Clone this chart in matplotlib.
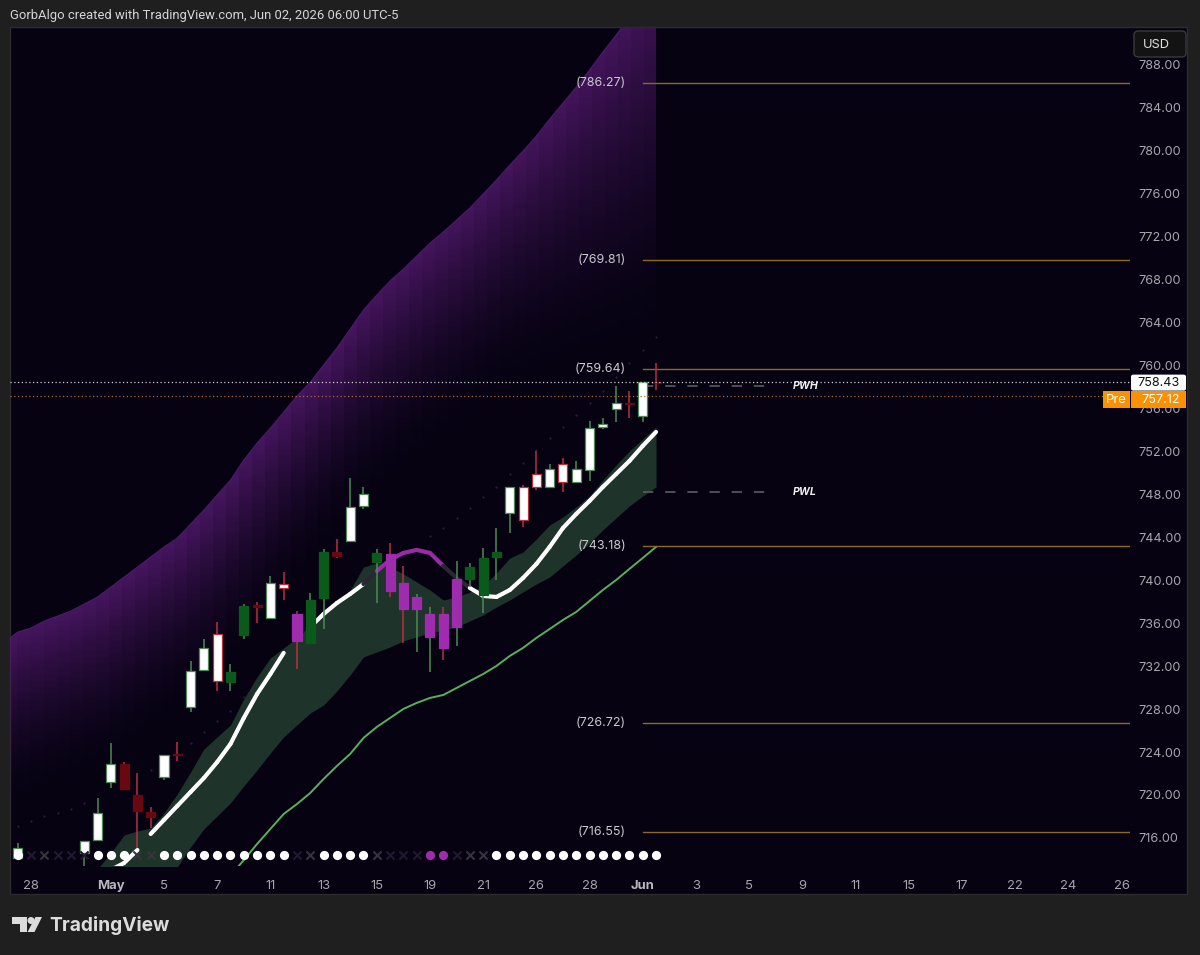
import numpy as np
import matplotlib
matplotlib.use("Agg")
import matplotlib.pyplot as plt
from matplotlib.patches import Rectangle, FancyBboxPatch, Polygon, Ellipse

plt.rcParams['font.family'] = ['Inter', 'DejaVu Sans']

# candles: bar index, body top, body bottom, high, low
bar_idx = [0, 5, 6, 7, 8, 9, 10, 11, 12, 13, 14, 15, 16, 17, 18, 19, 20, 21, 22, 23, 24, 25, 26, 27, 28,
           29, 30, 31, 32, 33, 34, 35, 36, 37, 38, 39, 40, 41, 42, 43, 44, 45, 46, 47, 48]
body_top = [715.04, 715.72, 718.30, 722.86, 722.86, 719.97, 718.45, 723.73, 723.82, 731.54, 733.69, 734.96,
            731.48, 737.62, 737.66, 739.74, 739.67, 736.82, 738.15, 742.59, 742.59, 746.84, 748.05, 742.50,
            742.43, 739.74, 738.46, 736.85, 736.85, 740.06, 741.20, 742.09, 742.65, 748.64, 748.70, 749.91,
            750.37, 750.78, 750.37, 754.19, 754.53, 756.52, 756.52, 758.42, 758.43]
body_bot = [714.14, 714.58, 715.81, 721.24, 720.56, 718.51, 717.98, 721.71, 723.70, 728.17, 731.64, 730.61,
            730.55, 734.87, 737.53, 736.45, 739.24, 734.31, 734.18, 738.37, 742.25, 743.65, 746.90, 741.72,
            739.02, 737.32, 737.32, 734.68, 733.70, 735.67, 740.11, 738.62, 742.13, 746.22, 745.57, 748.64,
            748.64, 749.16, 749.16, 750.25, 754.22, 755.90, 756.40, 755.31, 758.33]
high = [715.56, 715.72, 719.75, 724.81, 723.10, 722.08, 718.91, 723.73, 724.96, 732.50, 734.52, 736.06,
        732.17, 737.78, 737.99, 740.39, 740.73, 737.13, 738.78, 742.87, 743.86, 749.48, 748.64, 742.90,
        743.43, 741.35, 738.71, 737.53, 737.53, 741.81, 741.57, 742.99, 744.83, 748.64, 748.86, 752.04,
        750.78, 751.33, 751.09, 754.81, 755.12, 758.07, 757.61, 758.42, 760.24]
low = [714.14, 713.33, 715.81, 720.63, 720.47, 715.04, 716.90, 721.40, 723.19, 727.76, 731.64, 729.68,
       729.68, 734.52, 736.04, 736.45, 738.12, 731.73, 734.18, 735.43, 742.03, 743.65, 746.65, 737.90,
       738.46, 734.18, 733.34, 731.48, 732.57, 733.87, 739.33, 736.97, 740.01, 744.42, 744.98, 748.39,
       748.64, 748.22, 749.16, 749.23, 754.07, 754.72, 755.07, 754.72, 757.70]
body_kind = list("WWWWRRRWRWWWGGRWWPGGRWWGPPPPPPGGGWWWWWWWWWRWR")
wick_kind = list("ggggrrrgrggrggrgrrggrgggrrggrgggggrrgrggggrgr")

# moving average and its band, one value per bar
ma_idx = list(range(7, 49))
ma = [713.02, 713.67, 714.88, 716.37, 717.68, 718.98, 720.28, 721.58, 723.07, 724.75, 727.17, 729.40, 731.26,
      733.22, 734.43, 735.64, 736.85, 737.87, 738.71, 739.64, 740.85, 741.88, 742.53, 742.81, 742.53, 741.32,
      740.20, 739.27, 738.53, 738.43, 739.08, 740.20, 741.50, 743.09, 744.85, 746.16, 747.37, 748.67, 749.88,
      751.09, 752.49, 753.79]
# colour of the step that starts at each bar, last bar has none
ma_kind = list("wwn" + "wwwwwwwwww" + "nn" + "wwww" + "d" + "ppppp" + "dd" + "w" * 14)

band_idx = list(range(6, 49))
band_up = [713.11, 714.60, 716.28, 716.65, 716.93, 718.33, 720.10, 722.14, 724.28, 725.40, 726.52, 728.94,
           730.99, 732.75, 733.69, 734.62, 735.83, 737.22, 737.87, 739.08, 741.22, 741.60, 741.22, 740.57,
           739.83, 739.08, 738.15, 738.43, 738.90, 739.46, 740.67, 742.06, 742.62, 743.83, 745.13, 745.88,
           746.81, 747.83, 749.32, 750.72, 752.02, 753.14, 754.26]
band_lo = [712.0, 712.0, 712.0, 712.0, 712.0, 712.0, 713.30, 715.16, 716.84, 718.05, 719.26, 720.84,
           722.33, 723.91, 725.40, 726.52, 727.63, 728.38, 729.68, 731.17, 732.85, 733.31, 733.78, 734.34,
           734.71, 735.08, 735.36, 735.64, 736.20, 736.76, 737.50, 738.15, 738.90, 739.64, 740.29, 741.32,
           742.34, 743.46, 744.67, 745.79, 746.90, 747.83, 748.67]

green_idx = list(range(16, 49))
green = [712.46, 713.95, 715.44, 716.84, 718.23, 719.16, 720.19, 721.49, 722.70, 723.82, 725.31, 726.33,
         727.17, 728.01, 728.57, 729.03, 729.31, 729.96, 730.61, 731.26, 732.01, 732.94, 733.69, 734.62,
         735.45, 736.29, 737.04, 738.06, 739.08, 740.01, 741.04, 742.06, 743.09]

# purple cloud, bars -1 to 48
cloud_idx = list(range(-1, 49))
cloud_up = [734.24, 735.17, 735.55, 736.20, 736.66, 737.13, 737.78, 738.43, 739.36, 740.29, 741.22, 742.16,
            743.09, 743.92, 745.23, 746.53, 747.93, 749.32, 751.18, 752.77, 754.16, 755.65, 757.14, 758.44,
            760.03, 761.61, 763.38, 765.15, 766.54, 767.85, 768.96, 770.17, 771.38, 772.41, 773.52, 774.64,
            775.94, 777.25, 778.64, 779.95, 781.34, 782.92, 784.41, 785.90, 787.49, 789.16, 790.74, 792.42,
            794.09, 795.77]
cloud_base = [718.3, 718.9, 719.5, 720.1, 720.6, 721.1, 721.6, 722.1, 723.0, 723.9, 724.8, 725.7, 726.6, 727.5,
              728.4, 729.3, 730.4, 731.8, 733.2, 734.6, 736.0, 737.6, 739.1, 740.7, 742.2, 743.7, 745.2,
              746.2, 747.3, 748.3, 749.4, 750.5, 751.6, 752.5, 753.5, 754.4, 755.3, 756.2, 757.1, 757.7,
              758.0, 758.4, 758.8, 759.1, 759.5, 759.8, 760.1, 760.4, 760.7, 761.1]

# faint trailing dots
trail_idx = [0, 1, 2, 3, 4, 5, 10, 13, 14, 15, 16, 17, 31, 32, 33, 34, 35, 36, 37, 38, 39, 40, 41, 42, 43, 44,
             45, 46, 47, 48]
trail = [717.12, 717.58, 718.05, 718.33, 718.70, 719.26, 722.33, 724.84, 725.87, 726.89, 727.82, 729.12,
         744.11, 744.85, 745.79, 746.72, 747.74, 748.67, 749.88, 750.90, 752.12, 753.23, 754.26, 755.37,
         756.49, 757.61, 758.91, 760.21, 761.42, 762.63]

# bottom row, one per bar: o white dot, p purple dot, x grey cross, d dim cross
status = list("odxddd" + "ooo" + "xx" + "oooooooooo" + "dx" + "oooo" + "xddd" + "pp" + "dxx" + "ooooooooooooo")

pivots = [786.27, 769.81, 759.64, 743.18, 726.72, 716.55]
pwh = 758.08
pwl = 748.20
last_close = 758.43
pre_price = 757.12

y_ticks = list(range(716, 789, 4))
x_ticks = [1, 7, 11, 15, 19, 23, 27, 31, 35, 39, 43, 47, 51, 55, 59, 63, 67, 71, 75, 79, 83]
x_labels = ['28', 'May', '5', '7', '11', '13', '15', '19', '21', '26', '28', 'Jun', '3', '5', '9', '11', '15',
            '17', '22', '24', '26']

OUTER = '#1f1f1f'
PANE = '#060212'
AXIS_TEXT = '#a6a6ad'
W, H = 1200, 955


def chrome_rect(x0, y0, x1, y1, **kw):
    # pixel box measured from the top left, for the parts around the chart
    p = Rectangle((x0 / W, 1 - y1 / H), (x1 - x0) / W, (y1 - y0) / H, transform=fig.transFigure, **kw)
    fig.add_artist(p)
    return p


def chrome_text(x, y, s, **kw):
    fig.text(x / W, 1 - y / H, s, **kw)


fig = plt.figure(figsize=(12, 9.55), dpi=100, facecolor=OUTER)
chrome_rect(10, 27, 1187, 894, facecolor=PANE, edgecolor='#2c2c2e', lw=1, zorder=-5)

ax = fig.add_axes([10 / W, 1 - 866 / H, 1120 / W, 838 / H])
ax.patch.set_alpha(0)
for s in ax.spines.values():
    s.set_visible(False)
xlim = (-0.58, 83.64)
ylim = (713.39, 791.39)

# cloud: a column per bar, fading down from the upper edge
rows = np.linspace(ylim[0], ylim[1], 500)
cols = np.array(cloud_idx, dtype=float)
up = np.array(cloud_up)
base = np.array(cloud_base)
rgba = np.zeros((len(rows), len(cols), 4))
rgba[..., 0] = 80 / 255
rgba[..., 1] = 24 / 255
rgba[..., 2] = 106 / 255
for j in range(len(cols)):
    t = (up[j] - rows) / (up[j] - base[j])
    rgba[:, j, 3] = np.clip(1 - t, 0, 1) ** 1.7 * 0.85
rgba[up[None, :] < rows[:, None], 3] = 0.85
im = ax.imshow(rgba, origin='lower', aspect='auto', interpolation='nearest', zorder=1,
               extent=(cols[0], cols[-1], ylim[0], ylim[1]))
poly = Polygon(list(zip(cloud_idx, cloud_up)) + [(48, ylim[0]), (-1, ylim[0])], transform=ax.transData,
               facecolor='none', edgecolor='none')
ax.add_patch(poly)
im.set_clip_path(poly)
ax.plot(cloud_idx, cloud_up, color='#54267a', lw=0.7, alpha=0.7, zorder=2)

ax.fill_between(band_idx, band_lo, band_up, color='#1e3329', lw=0, zorder=2)
ax.plot(green_idx, green, color='#59b05a', lw=1.4, zorder=3)

# moving average, coloured step by step
ma_colors = {'w': '#ffffff', 'p': '#9a2aa8', 'd': '#2b2633'}
for k, kind in enumerate(ma_kind[:len(ma) - 1]):
    if kind == 'n':
        continue
    ax.plot(ma_idx[k:k + 2], ma[k:k + 2], color=ma_colors[kind], lw=3.0, zorder=4, solid_capstyle='round')

ax.scatter(trail_idx, trail, s=2.5, color='#2e1a40', lw=0, zorder=2)

# price and pivot lines
for p in pivots:
    ax.plot([47, xlim[1]], [p, p], color='#8a6a26', lw=1, zorder=3)
    ax.text(45.74, p, '(%.2f)' % p, color='#c9c9cc', fontsize=9.0, ha='right', va='center', zorder=7)
ax.axhline(last_close, color='#cfcfd2', lw=0.9, ls=(0, (1, 2)), zorder=6)
ax.axhline(pre_price, color='#a8683a', lw=0.9, ls=(0, (1, 2)), zorder=6)
for p, name in [(pwh, 'PWH'), (pwl, 'PWL')]:
    ax.plot([47, 56.3], [p, p], color='#5c5c62', lw=1.2, ls=(0, (6.2, 7.1)), zorder=3)
    ax.text(58.25, p, name, color='#eeeeee', fontsize=7.6, fontweight='bold', style='italic',
            ha='left', va='center', zorder=7)

# candles
fills = {'W': '#ffffff', 'G': '#0a5a1c', 'R': '#6a0812', 'P': '#9f2bae'}
wicks = {'g': '#4d8a55', 'r': '#b5323f'}
for k, i in enumerate(bar_idx):
    wc = wicks[wick_kind[k]]
    fc = fills[body_kind[k]]
    ec = wc if body_kind[k] == 'W' else fc
    ax.plot([i, i], [low[k], high[k]], color=wc, lw=1.1, zorder=5, solid_capstyle='butt')
    ax.add_patch(Rectangle((i - 0.34, body_bot[k]), 0.68, body_top[k] - body_bot[k],
                           facecolor=fc, edgecolor=ec, lw=0.9, zorder=5))

# status row sits at a fixed height in the pane
row_t = ax.get_xaxis_transform()
row_y = 10.6 / 838
status_x = {'o': '#ffffff', 'p': '#9f2bae'}
cross = {'x': '#38343e', 'd': '#221830'}
for i, s in enumerate(status):
    if s in status_x:
        ax.scatter(i, row_y, s=44, color=status_x[s], lw=0, transform=row_t, zorder=8, clip_on=False)
    else:
        ax.scatter(i, row_y, s=34, marker='x', color=cross[s], lw=1.5, transform=row_t, zorder=8)

ax.set_xlim(xlim)
ax.set_ylim(ylim)
ax.yaxis.tick_right()
ax.set_yticks(y_ticks)
ax.set_yticklabels(['%.2f' % v for v in y_ticks])
ax.set_xticks(x_ticks)
ax.set_xticklabels(x_labels)
ax.tick_params(axis='y', length=0, pad=6.2, labelsize=9.1, labelcolor=AXIS_TEXT)
ax.tick_params(axis='x', length=0, pad=10, labelsize=9.4, labelcolor=AXIS_TEXT)
for lab in ax.get_xticklabels():
    if lab.get_text() in ('May', 'Jun'):
        lab.set_fontweight('bold')
        lab.set_color('#b8b8be')

# price tags on the axis
y_last = 866 - (last_close - ylim[0]) / (ylim[1] - ylim[0]) * 838
fig.add_artist(FancyBboxPatch((1131 / W, 1 - (y_last + 8.5) / H), 55 / W, 16 / H, transform=fig.transFigure,
                              boxstyle='round,pad=0,rounding_size=0.002', facecolor='#ffffff', edgecolor='none',
                              zorder=10))
chrome_text(1180, y_last + 0.5, '%.2f' % last_close, color='#111111', fontsize=9.1, ha='right', va='center', zorder=11)
chrome_rect(1131, 391.5, 1186, 408, facecolor='#fb9000', edgecolor='none', zorder=10)
chrome_rect(1103, 391.5, 1129.5, 408, facecolor='#fb9000', edgecolor='none', zorder=10)
chrome_text(1180, 400, '%.2f' % pre_price, color='#ffffff', fontsize=9.1, ha='right', va='center', zorder=11)
chrome_text(1116, 400, 'Pre', color='#ffffff', fontsize=9.4, ha='center', va='center', zorder=11)

# USD button
fig.add_artist(FancyBboxPatch((1134 / W, 1 - 57 / H), 52 / W, 26 / H, transform=fig.transFigure,
                              boxstyle='round,pad=0,rounding_size=0.004', facecolor='#131313', edgecolor='#3a3a3c',
                              lw=1, zorder=10))
chrome_text(1143, 44.5, 'USD', color='#e0e0e0', fontsize=9.3, ha='left', va='center', zorder=11)

chrome_text(10, 16, 'GorbAlgo created with TradingView.com, Jun 02, 2026 06:00 UTC-5', color='#d6d6d6',
            fontsize=9.4, family=['Roboto', 'DejaVu Sans'], ha='left', va='center')

# logo
logo = '#dcdcdc'
t_shape = [(12, 917), (27, 917), (27, 932), (20, 932), (20, 924), (12, 924)]
slant = [(35.5, 917), (42, 917), (34.5, 932), (27.5, 932)]
for pts in (t_shape, slant):
    fig.add_artist(Polygon([(x / W, 1 - y / H) for x, y in pts], transform=fig.transFigure, facecolor=logo,
                           edgecolor='none'))
fig.add_artist(Ellipse((31 / W, 1 - 920.5 / H), 7 / W, 7 / H, transform=fig.transFigure, facecolor=logo,
                       edgecolor='none'))
chrome_text(49.5, 925, 'TradingView', color=logo, fontsize=13.8, fontweight='bold', ha='left', va='center')

fig.savefig('out.png', dpi=100, facecolor=OUTER)
